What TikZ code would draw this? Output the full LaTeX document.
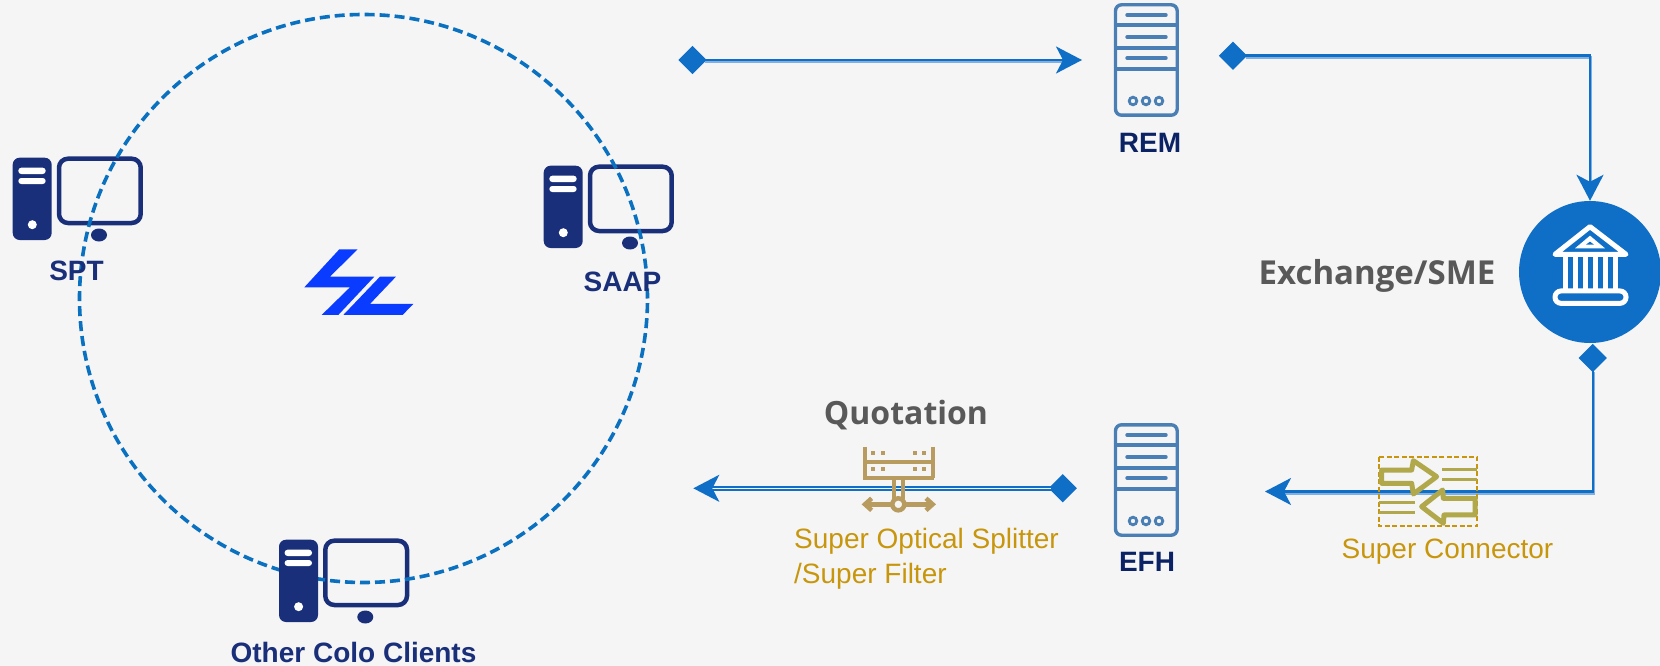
\documentclass[tikz,border=0pt]{standalone}
\usepackage{fontspec}
\setmainfont{Liberation Sans}
\newfontfamily\headfont{Open Sans}
\usetikzlibrary{arrows.meta}
\usetikzlibrary{shapes.geometric}
\definecolor{panel}{RGB}{245,245,245}
\definecolor{linkblue}{RGB}{15,110,198}
\definecolor{linklight}{RGB}{130,175,225}
\definecolor{ringblue}{RGB}{10,112,192}
\definecolor{navy}{RGB}{26,47,122}
\definecolor{deepnavy}{RGB}{11,34,101}
\definecolor{steel}{RGB}{74,127,181}
\definecolor{headgray}{RGB}{89,89,89}
\definecolor{gold}{RGB}{200,150,12}
\definecolor{tan}{RGB}{184,155,94}
\definecolor{olive}{RGB}{176,168,74}
\definecolor{logoblue}{RGB}{10,60,255}
\tikzset{
  bigtip/.tip={Stealth[length=26pt,width=27pt,inset=7pt]},
  link/.style={draw=linkblue, line width=2.4pt, -bigtip,
    preaction={draw=linklight, line width=2.4pt, -, shorten >=16pt, transform canvas={shift={(0.8pt,-2pt)}}}},
  twinlink/.style={draw=linkblue, line width=1.8pt, double=panel, double distance=1.6pt, -bigtip},
  joint/.style={diamond, fill=linkblue, minimum width=27pt, minimum height=27pt, inner sep=0pt, outer sep=-1.5pt},
  hostlabel/.style={anchor=base, text=navy, font=\bfseries\fontsize{28}{32}\selectfont},
  serverlabel/.style={anchor=base, text=deepnavy, font=\bfseries\fontsize{28}{32}\selectfont},
  headlabel/.style={anchor=base, text=headgray, font=\headfont\bfseries\fontsize{32}{38}\selectfont},
  partlabel/.style={anchor=base west, text=gold, align=left, inner sep=0pt, font=\fontsize{28}{35}\selectfont},
  screen/.pic={
    \draw[navy, line width=4.5pt, rounded corners=9pt] (46.3,1.7) rectangle (128,66);
    \fill[navy] (86.3,78) ellipse (8pt and 6.5pt);
  },
  tower/.pic={
    \fill[navy, rounded corners=7pt] (0,0.7) rectangle (39,83);
    \fill[white, rounded corners=3pt] (5.6,10.7) rectangle (33,17);
    \fill[white, rounded corners=3pt] (5.6,21) rectangle (33,27);
    \fill[white] (19.6,67.7) circle (4.5pt);
  },
  server/.pic={
    \draw[steel, line width=3.4pt, rounded corners=6pt] (1.5,1.5) rectangle (63.2,111.9);
    \foreach \y in {21.7,44.7,65.7} \draw[steel, line width=3.2pt] (1.5,\y) -- (63.2,\y);
    \foreach \y in {11.7,33.7,54.7} \draw[steel, line width=3.4pt, line cap=round] (13,\y) -- (52,\y);
    \foreach \x in {19,32,45} \draw[steel, line width=2.8pt] (\x,97.7) circle (3.8pt);
  }
}

\begin{document}
\begin{tikzpicture}[x=1pt, y=-1pt]

    \fill[panel] (0,0) rectangle (1660,666);
    \useasboundingbox (0,0) rectangle (1660,666);

    \pic at (12.7,157) {screen};
    \pic at (543.7,165) {screen};
    \pic at (279,539) {screen};

    \node[circle, draw=ringblue, line width=3.6pt, dash pattern=on 10pt off 5pt, minimum size=568pt, inner sep=0pt] (ring) at (363.5,298.5) {};

    \pic at (12.7,157) {tower};
    \pic at (543.7,165) {tower};
    \pic at (279,539) {tower};

    \node[hostlabel] (spt) at (76.5,280) {SPT};
    \node[hostlabel] (saap) at (622.5,291.5) {SAAP};
    \node[hostlabel] (colo) at (353.5,662) {Other Colo Clients};

    % logo
    \begin{scope}[shift={(0,130)}, x=0.3333pt, y=-0.3333pt]
      \fill[logoblue] (1018,358) -- (1073,358) -- (990,440) -- (1123,440) -- (1015,555) -- (965,555) -- (1050,472) -- (913,472) -- cycle;
      \fill[logoblue] (1140,440) -- (1188,440) -- (1110,522) -- (1240,522) -- (1208,555) -- (1030,555) -- cycle;
    \end{scope}

    \pic at (1114,3.3) {server};
    \pic at (1114,423.3) {server};
    \node[serverlabel] (rem) at (1150,152.7) {REM};
    \node[serverlabel] (efh) at (1147,571) {EFH};

    \node[circle, fill=linkblue, minimum size=142pt, inner sep=0pt] (bank) at (1590,272) {};
    \node[headlabel, font=\headfont\bfseries\fontsize{33}{38}\selectfont] (sme) at (1377,284) {Exchange/SME};
    \node[headlabel] (quote) at (906,424) {Quotation};

    \node[joint] (startrem) at (692.4,60) {};
    \node[joint] (startbank) at (1233,55.7) {};
    \node[joint] (startconn) at (1592.7,358) {};
    \node[joint] (startquote) at (1062.7,488.3) {};
    \coordinate (endrem) at (1082,60);
    \coordinate (endconn) at (1265,491.5);
    \coordinate (endquote) at (693.3,488.3);

    \draw[link] (startrem) -- (endrem);
    \draw[link] (startbank) -| (bank.north);
    \draw[link] (startconn) |- (endconn);
    \draw[twinlink] (startquote) -- (endquote);

    % bank icon
    \begin{scope}[shift={(1540,215)}, x=0.3333pt, y=-0.3333pt]
      \draw[white, line width=5pt, line join=round] (150,35) -- (45,118) -- (258,118) -- cycle;
      \fill[white] (150,62) -- (105,100) -- (195,100) -- cycle;
      \fill[linkblue] (150,80) -- (138,89) -- (162,89) -- cycle;
      \foreach \x in {76,106,136,166,196,226} \draw[white, line width=4.4pt] (\x,125) -- (\x,225);
      \draw[white, line width=5pt, rounded corners=6pt] (45,228) rectangle (258,265);
    \end{scope}

    % splitter icon
    \begin{scope}[shift={(780,390)}, x=0.3333pt, y=-0.3333pt]
      \draw[tan, line width=4pt] (255,170) -- (255,265) (458,170) -- (458,265);
      \draw[tan, line width=4pt] (250,215) -- (462,215) (250,265) -- (462,265);
      \foreach \y in {188,237} \foreach \x in {280,308,405,432} \fill[tan] (\x-6,\y-6) rectangle (\x+6,\y+6);
      \draw[tan, line width=4pt] (343,265) -- (343,328) (368,265) -- (368,328);
      \draw[tan, line width=4.5pt] (258,343) -- (335,343) (375,343) -- (455,343);
      \draw[tan, line width=4.5pt] (275,325) -- (255,343) -- (275,361) (438,325) -- (458,343) -- (438,361);
      \draw[tan, line width=4.5pt, fill=panel] (355,343) circle (18);
    \end{scope}
    \node[partlabel] (splitter) at (794,583) {Super Optical Splitter\\/Super Filter};

    % connector icon
    \begin{scope}[shift={(1320,440)}, x=0.3333pt, y=-0.3333pt]
      \draw[gold, line width=1.8pt, dash pattern=on 5pt off 2.5pt] (177,50) rectangle (472,258);
      \draw[olive, line width=5pt, line join=round] (185,90) -- (275,90) -- (280,62) -- (350,110) -- (280,162) -- (275,130) -- (185,130) -- cycle;
      \draw[olive, line width=5pt, line join=round] (465,175) -- (370,175) -- (368,150) -- (305,200) -- (370,250) -- (372,225) -- (465,225) -- cycle;
      \draw[olive, line width=3pt] (367,88) -- (470,88) (367,120) -- (470,120) (178,187) -- (285,187) (178,218) -- (285,218);
    \end{scope}
    \node[partlabel, anchor=base] (connector) at (1447.5,558) {Super Connector};

\end{tikzpicture}
\end{document}
